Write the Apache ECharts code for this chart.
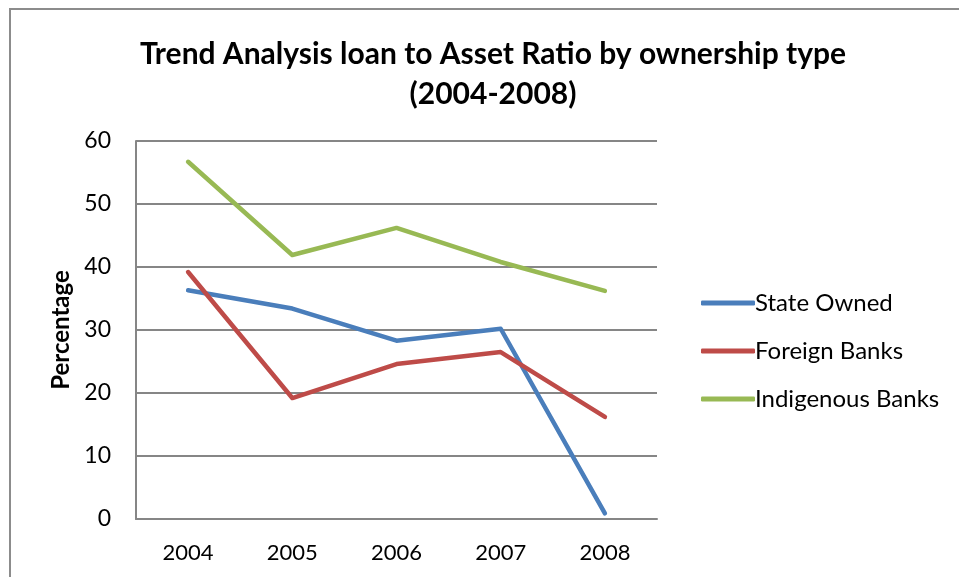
<!DOCTYPE html>
<html>
<head>
<meta charset="utf-8">
<script src="https://cdn.jsdelivr.net/npm/echarts@6/dist/echarts.min.js"></script>
<style>
  html, body { margin: 0; padding: 0; background: #fff; }
  #chart { width: 959px; height: 577px; }
</style>
</head>
<body>
<div id="chart"></div>
<script>
// Loan to asset ratio (%) by ownership type, 2004-2008
const years = ['2004', '2005', '2006', '2007', '2008'];
const stateOwned = [36.3, 33.4, 28.3, 30.2, 0.9];
const foreignBanks = [39.2, 19.2, 24.6, 26.5, 16.2];
const indigenousBanks = [56.7, 41.9, 46.2, 40.8, 36.2];
const seriesNames = ['State Owned', 'Foreign Banks', 'Indigenous Banks'];
const seriesColors = ['#4A7EBB', '#BE4B48', '#98B954'];

const FONT = 'Lato, "Open Sans", sans-serif';
const chart = echarts.init(document.getElementById('chart'), null, { renderer: 'canvas' });

function lineSeries(name, data, color) {
  return {
    name: name,
    type: 'line',
    data: data,
    symbol: 'none',
    lineStyle: { color: color, width: 4.5, cap: 'round', join: 'round' },
    itemStyle: { color: color },
    emphasis: { disabled: true }
  };
}

chart.setOption({
  animation: false,
  backgroundColor: '#ffffff',
  title: {
    text: 'Trend Analysis loan to Asset Ratio by ownership type\n(2004-2008)',
    left: 488,
    textAlign: 'center',
    top: 29,
    textStyle: {
      fontFamily: FONT,
      fontWeight: 'bold',
      fontSize: 30,
      lineHeight: 40,
      color: '#000'
    }
  },
  graphic: [{
    type: 'rect',
    shape: { x: 10, y: 9, width: 1000, height: 700 },
    style: { fill: null, stroke: '#8c8c8c', lineWidth: 2 },
    silent: true
  }],
  legend: {
    orient: 'vertical',
    left: 696,
    top: 285,
    itemWidth: 54,
    itemHeight: 5,
    itemGap: 22,
    icon: 'roundRect',
    textStyle: { fontFamily: FONT, fontSize: 24, color: '#000', lineHeight: 26, padding: [0, 0, 0, -5] },
    data: seriesNames
  },
  grid: { left: 136, right: 302, top: 141, bottom: 58 },
  xAxis: {
    type: 'category',
    data: years,
    boundaryGap: true,
    axisLine: { lineStyle: { color: '#868686', width: 2 } },
    axisTick: { show: false },
    axisLabel: { fontFamily: FONT, fontSize: 22, color: '#000', margin: 23 }
  },
  yAxis: {
    type: 'value',
    min: 0,
    max: 60,
    interval: 10,
    name: 'Percentage',
    nameLocation: 'middle',
    nameGap: 61,
    nameRotate: 90,
    nameTextStyle: { fontFamily: FONT, fontWeight: 'bold', fontSize: 24, color: '#000' },
    axisLine: { show: true, lineStyle: { color: '#868686', width: 2 } },
    axisTick: { show: false },
    splitLine: { lineStyle: { color: '#868686', width: 2 } },
    axisLabel: { fontFamily: FONT, fontSize: 23, color: '#000', margin: 25 }
  },
  series: [
    lineSeries(seriesNames[0], stateOwned, seriesColors[0]),
    lineSeries(seriesNames[1], foreignBanks, seriesColors[1]),
    lineSeries(seriesNames[2], indigenousBanks, seriesColors[2])
  ]
});
</script>
</body>
</html>
